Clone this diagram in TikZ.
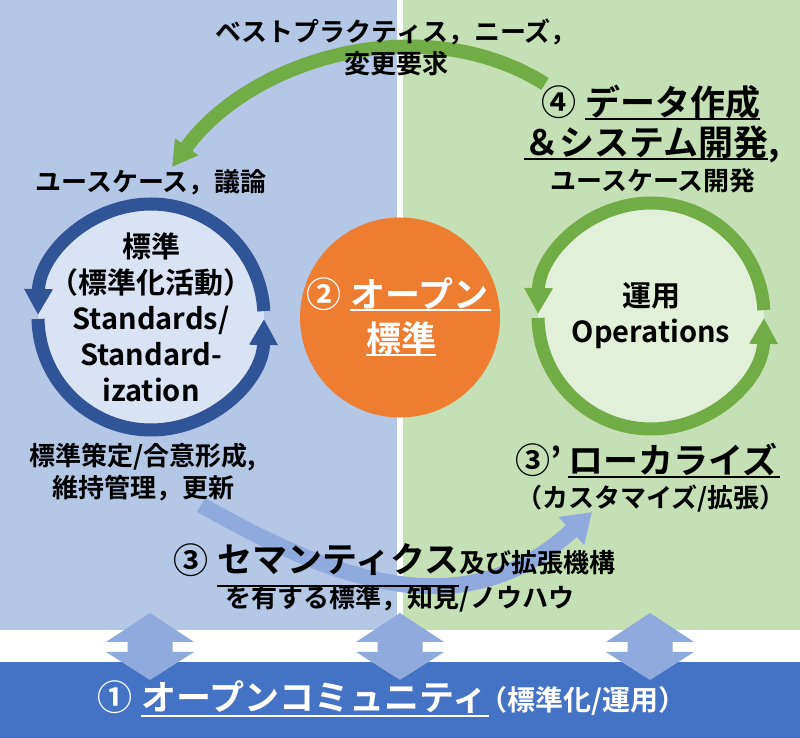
\documentclass[tikz,border=0pt]{standalone}
\usepackage{fontspec}
\setmainfont{Noto Sans CJK JP}[BoldFont={* Bold}]
\usetikzlibrary{arrows.meta}
\definecolor{stdpanel}{HTML}{B4C7E7}
\definecolor{oppanel}{HTML}{C5E0B4}
\definecolor{commband}{HTML}{4472C4}
\definecolor{stdring}{HTML}{2F5597}
\definecolor{opring}{HTML}{70AD47}
\definecolor{stdfill}{HTML}{DAE3F3}
\definecolor{opfill}{HTML}{E2F0D9}
\definecolor{openstd}{HTML}{ED7D31}
\definecolor{flow}{HTML}{8FAADC}
\newcommand{\jlp}{\makebox[0.5em][r]{（}}
\newcommand{\jrp}{\makebox[0.5em][l]{）}}
\tikzset{
  lbl/.style={font=\bfseries\fontsize{26}{32}\selectfont, inner sep=0pt, align=center},
  circ/.style={font=\bfseries\fontsize{29}{36}\selectfont, inner sep=0pt, align=center},
  big/.style={font=\bfseries\fontsize{35}{40}\selectfont, inner sep=0pt},
  ring/.style={line width=13pt, -{Triangle[width=27pt,length=26pt]}},
  uline/.style={line width=2pt},
}
\begin{document}
\begin{tikzpicture}[x=1pt,y=1pt]
\useasboundingbox (0,0) rectangle (800,738);
\fill[white] (0,0) rectangle (800,738);
\fill[stdpanel] (0,108) rectangle (397,738);
\fill[oppanel] (403,108) rectangle (800,738);
\fill[commband] (0,0) rectangle (800,76);

\coordinate (feedS) at (545,654);
\coordinate (feedE) at (172,571);
\draw[opring, line width=14pt, -{Triangle[width=27pt,length=25pt]}] (feedS) .. controls (425,730) and (252,681) .. (feedE);

\coordinate (stdc) at (151,421);
\coordinate (opc) at (651,422);
\foreach \ctr/\fil/\rng in {stdc/stdfill/stdring, opc/opfill/opring} {
  \fill[\fil] (\ctr) circle (113);
  \draw[\rng, ring] (\ctr) ++(3:113) arc[start angle=3, end angle=179, radius=113];
  \draw[\rng, ring] (\ctr) ++(181:113) arc[start angle=181, end angle=359, radius=113];
}
\fill[openstd] (400,420.5) circle (100);

\coordinate (semS) at (201,233);
\coordinate (semE) at (592,226);
\draw[flow, line width=16pt, -{Triangle[width=36pt,length=28pt]}] (semS) .. controls (331,160) and (462,106) .. (semE);

\foreach \x in {150,400,650}
  \fill[flow] (\x,125) -- (\x+44,96) -- (\x+22.5,96) -- (\x+22.5,86) -- (\x+44,86) -- (\x,58)
    -- (\x-44,86) -- (\x-22.5,86) -- (\x-22.5,96) -- (\x-44,96) -- cycle;

\node[lbl] (needs) at (396,691) {ベストプラクティス，ニーズ，\\変更要求};
\node[lbl] (usecase) at (151,556) {ユースケース，議論};
\node[circ] (stdtext) at (stdc) {標準\\\jlp 標準化活動\jrp\\Standards/\\Standard-\\ization};
\node[lbl] (stdwork) at (143,266) {標準策定/合意形成,\\維持管理，更新};

\node[big, anchor=west] (datamake) at (585,636) {データ作成};
\node[big, anchor=east] (no4) at ([xshift=-8pt]datamake.west) {④};
\node[big, anchor=west] (sysdev) at (524,596) {＆システム開発};
\node[big, anchor=base west] (sysdevc) at (sysdev.base east) {,};
\node[lbl] (ucdev) at (653,557) {ユースケース開発};
\draw[uline] (datamake.south west) -- (datamake.south east);
\draw[uline] (sysdev.south west) -- (sysdev.south east);

\node[big, white, anchor=west] (openA) at (350,444) {オープン};
\node[big, white, anchor=east] (no2) at ([xshift=-8pt]openA.west) {②};
\node[big, white] (openB) at (401,400) {標準};
\draw[uline, white] (openA.south west) -- ([xshift=3pt]openA.south east);
\draw[uline, white] (openB.south west) -- (openB.south east);

\node[circ] (optext) at (opc) {運用\\Operations};
\node[big, anchor=west] (localize) at (568,278) {ローカライズ};
\node[big, anchor=east] (no3l) at ([xshift=-6pt]localize.west) {③’};
\draw[uline] (localize.south west) -- ([xshift=3pt]localize.south east);
\node[lbl] (custom) at (651,239) {\jlp カスタマイズ/拡張\jrp};

\node[big, anchor=west] (semantics) at (217,178) {セマンティクス};
\node[big, anchor=east] (no3) at ([xshift=-8pt]semantics.west) {③};
\node[lbl, anchor=base west] (ext) at (semantics.base east) {及び拡張機構};
\draw[uline] ([yshift=-10pt]semantics.south west) -- ([yshift=-10pt]semantics.south east);
\node[lbl] (knowhow) at (400,139) {を有する標準，知見/ノウハウ};

\node[big, white, anchor=west] (community) at (141,41) {オープンコミュニティ};
\node[big, white, anchor=east] (no1) at ([xshift=-8pt]community.west) {①};
\node[white, inner sep=0pt, font=\bfseries\fontsize{28}{32}\selectfont, anchor=base west] (commnote) at ([xshift=6pt]community.base east) {\jlp 標準化/運用\jrp};
\draw[uline, white] ([yshift=-2pt]community.south west) -- ([yshift=-2pt,xshift=2pt]community.south east);
\end{tikzpicture}
\end{document}
